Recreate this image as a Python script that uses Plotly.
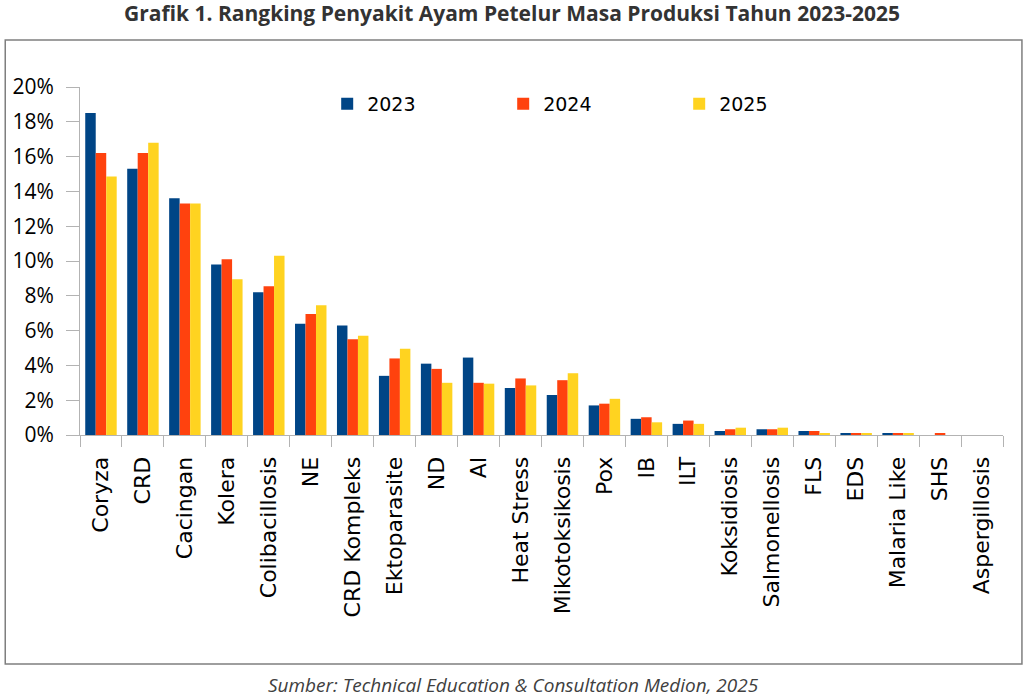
import plotly.graph_objects as go

categories = ["Coryza", "CRD", "Cacingan", "Kolera", "Colibacillosis", "NE",
              "CRD Kompleks", "Ektoparasite", "ND", "AI", "Heat Stress",
              "Mikotoksikosis", "Pox", "IB", "ILT", "Koksidiosis",
              "Salmonellosis", "FLS", "EDS", "Malaria Like", "SHS", "Aspergillosis"]

years = ["2023", "2024", "2025"]

v2023 = [18.5, 15.3, 13.6, 9.8, 8.2, 6.4, 6.3, 3.4, 4.1, 4.45, 2.7, 2.3, 1.7,
         0.93, 0.64, 0.23, 0.33, 0.23, 0.08, 0.08, 0.0, 0.0]
v2024 = [16.2, 16.2, 13.3, 10.1, 8.55, 6.95, 5.5, 4.4, 3.8, 3.0, 3.25, 3.15, 1.8,
         1.02, 0.83, 0.33, 0.33, 0.23, 0.08, 0.08, 0.08, 0.0]
v2025 = [14.85, 16.8, 13.3, 8.95, 10.3, 7.45, 5.7, 4.95, 3.0, 2.95, 2.85, 3.55, 2.08,
         0.73, 0.64, 0.42, 0.42, 0.08, 0.08, 0.07, 0.0, 0.0]

series = [v2023, v2024, v2025]
colors = ["#004586", "#ff420e", "#ffd320"]

W, H = 1024, 699
L, R, T, B = 77, 1003, 87, 435  # plot area in pixels


def px_x(p):
    return (p - L) / (R - L)


def px_y(p):
    return (B - p) / (B - T)


fig = go.Figure()
for name, vals, col in zip(years, series, colors):
    fig.add_trace(go.Bar(
        x=categories,
        y=[v / 100 for v in vals],
        name=name,
        marker=dict(color=col, line=dict(width=0)),
    ))

fig.update_layout(
    width=W, height=H,
    margin=dict(l=L, r=W - R, t=T, b=H - B, pad=0),
    paper_bgcolor="white",
    plot_bgcolor="white",
    barmode="group",
    bargap=0.25,
    bargroupgap=0,
    showlegend=True,
    legend=dict(
        orientation="h",
        x=px_x(325), xanchor="left",
        y=px_y(104), yanchor="middle",
        font=dict(family="DejaVu Sans", size=19, color="#000000"),
        entrywidth=131, entrywidthmode="pixels",
        bgcolor="rgba(0,0,0,0)",
        traceorder="normal",
    ),
    title=dict(
        text="<b>Grafik 1. Rangking Penyakit Ayam Petelur Masa Produksi Tahun 2023-2025</b>",
        x=512 / W, xanchor="center", xref="container",
        y=1 - 14 / H, yanchor="middle", yref="container",
        font=dict(family="Open Sans", size=21, color="#333333"),
    ),
    xaxis=dict(
        type="category",
        range=[-0.5, len(categories) - 0.5],
        tickson="boundaries",
        ticks="outside", ticklen=11, tickcolor="#b3b3b3", tickwidth=1,
        showline=True, linecolor="#b3b3b3", linewidth=1,
        showgrid=False,
        tickangle=-90,
        tickfont=dict(family="DejaVu Sans", size=22, color="#000000"),
        ticklabelstandoff=12,
        zeroline=False,
    ),
    yaxis=dict(
        range=[0, 0.20],
        dtick=0.02,
        tickformat=".0%",
        ticks="outside", ticklen=13, tickcolor="#b3b3b3", tickwidth=1,
        showline=True, linecolor="#b3b3b3", linewidth=1,
        showgrid=False,
        zeroline=False,
        tickfont=dict(family="Open Sans", size=21, color="#000000"),
        ticklabelstandoff=8,
    ),
    shapes=[dict(
        type="rect", xref="paper", yref="paper",
        x0=px_x(2), x1=px_x(1022), y0=px_y(664), y1=px_y(40),
        line=dict(color="#7f7f7f", width=1.5),
        fillcolor="rgba(0,0,0,0)",
        layer="below",
    )],
    annotations=[dict(
        text="<i>Sumber: Technical Education &amp; Consultation Medion, 2025</i>",
        xref="paper", yref="paper",
        x=px_x(512), y=px_y(685),
        xanchor="center", yanchor="middle",
        showarrow=False,
        font=dict(family="Open Sans", size=19, color="#404040"),
    )],
)

fig.write_html(
    "out.html",
    config={"displayModeBar": False},
    post_script="document.body.style.margin='0';document.body.style.overflow='hidden';",
)
